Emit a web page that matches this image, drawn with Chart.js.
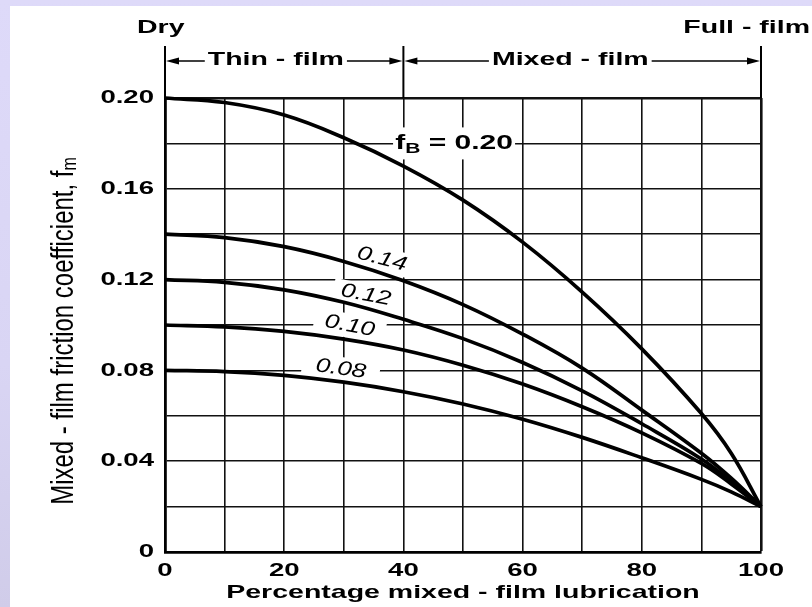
<!DOCTYPE html>
<html>
<head>
<meta charset="utf-8">
<title>Mixed-film friction coefficient</title>
<script src="https://cdn.jsdelivr.net/npm/chart.js@4.4.1/dist/chart.umd.min.js"></script>
<style>
  html, body { margin: 0; padding: 0; }
  body {
    width: 812px; height: 607px; overflow: hidden; position: relative;
    background: linear-gradient(180deg, #dedaf9 0%, #d9d5f4 60%, #d0cce9 100%);
  }
  #panel { position: absolute; left: 10px; top: 6px; width: 802px; height: 601px; background: #fff; }
  canvas { display: block; }
</style>
</head>
<body>
<div id="panel"><canvas id="frictionChart" width="802" height="601"></canvas></div>
<script>
// percentage of mixed-film lubrication
const percentMixed = [0, 10, 20, 30, 40, 50, 60, 70, 80, 90, 95, 100];

// mixed-film friction coefficient f_m, one curve per boundary coefficient f_B
const fm020 = [0.200, 0.198, 0.1925, 0.1825, 0.170, 0.155, 0.1365, 0.1145, 0.0895, 0.061, 0.0435, 0.020];
const fm014 = [0.140, 0.1385, 0.1345, 0.128, 0.1195, 0.109, 0.096, 0.081, 0.0625, 0.0435, 0.0325, 0.020];
const fm012 = [0.120, 0.1188, 0.1155, 0.110, 0.1025, 0.094, 0.0835, 0.071, 0.0565, 0.041, 0.031, 0.020];
const fm010 = [0.100, 0.0992, 0.0972, 0.0938, 0.089, 0.0823, 0.074, 0.064, 0.0525, 0.039, 0.030, 0.020];
const fm008 = [0.080, 0.0795, 0.0778, 0.0748, 0.0706, 0.0652, 0.0585, 0.0505, 0.0415, 0.032, 0.0265, 0.020];

const curves = [fm020, fm014, fm012, fm010, fm008];
const seriesNames = ['0.20', '0.14', '0.12', '0.10', '0.08'];

const xTickLabels = ['0', '20', '40', '60', '80', '100'];
const yTickLabels = ['0', '0.04', '0.08', '0.12', '0.16', '0.20'];
const regimeLabels = ['Thin - film', 'Mixed - film'];
const regimeBounds = [0, 40, 100];

const FAMILY = "'Liberation Sans', Arial, Helvetica, sans-serif";
const STRETCH = 1.5;   // the lettering is drawn wide

// where each curve label sits (data units) and the white patch behind it
const labelSpots = [
  { x: 48.5, y: 0.1800, angle: 0,  w: 122, h: 32 },
  { x: 36.4, y: 0.1290, angle: 15, w: 62,  h: 24 },
  { x: 33.7, y: 0.1132, angle: 11, w: 66,  h: 22 },
  { x: 31.0, y: 0.0996, angle: 11, w: 72,  h: 24 },
  { x: 29.5, y: 0.0806, angle: 8,  w: 78,  h: 24 }
];
const regimeCenters = [18.6, 68];

function wideText(ctx, text, x, y, font, sx, align) {
  ctx.save();
  ctx.font = font;
  ctx.textBaseline = 'middle';
  ctx.textAlign = 'left';
  const w = ctx.measureText(text).width * sx;
  let left = x;
  if (align === 'center') left = x - w / 2;
  else if (align === 'right') left = x - w;
  ctx.translate(left, y);
  ctx.scale(sx, 1);
  ctx.fillText(text, 0, 0);
  ctx.restore();
  return w;
}

function textWidth(ctx, text, font, sx) {
  ctx.save();
  ctx.font = font;
  const w = ctx.measureText(text).width * sx;
  ctx.restore();
  return w;
}

function arrowLine(ctx, x1, x2, y) {
  // arrowhead sits at x2
  const dir = Math.sign(x2 - x1);
  ctx.beginPath();
  ctx.moveTo(x1, y);
  ctx.lineTo(x2 - dir * 6, y);
  ctx.stroke();
  ctx.beginPath();
  ctx.moveTo(x2, y);
  ctx.lineTo(x2 - dir * 13, y - 3.5);
  ctx.lineTo(x2 - dir * 13, y + 3.5);
  ctx.closePath();
  ctx.fill();
}

const annotations = {
  id: 'frictionAnnotations',
  beforeDatasetsDraw(chart) {
    const { ctx, scales: { x, y } } = chart;
    ctx.save();
    ctx.fillStyle = '#fff';
    labelSpots.forEach(s => {
      ctx.save();
      ctx.translate(x.getPixelForValue(s.x), y.getPixelForValue(s.y));
      ctx.rotate(s.angle * Math.PI / 180);
      ctx.fillRect(-s.w / 2, -s.h / 2, s.w, s.h);
      ctx.restore();
    });
    ctx.restore();
  },
  afterDraw(chart) {
    const { ctx, chartArea, scales: { x, y } } = chart;
    const bold = 'bold 19px ' + FAMILY;
    ctx.save();
    ctx.fillStyle = '#000';
    ctx.strokeStyle = '#000';

    // tick labels
    xTickLabels.forEach(t => {
      wideText(ctx, t, x.getPixelForValue(parseFloat(t)), chartArea.bottom + 19, bold, 1.45, 'center');
    });
    yTickLabels.forEach(t => {
      wideText(ctx, t, chartArea.left - 11, y.getPixelForValue(parseFloat(t)), bold, 1.45, 'right');
    });

    // axis titles
    wideText(ctx, 'Percentage mixed - film lubrication', (chartArea.left + chartArea.right) / 2,
      chartArea.bottom + 41, bold, STRETCH, 'center');

    ctx.save();
    ctx.translate(54, chartArea.top + 233);
    ctx.rotate(-Math.PI / 2);
    ctx.scale(1, 1.3);
    ctx.textBaseline = 'middle';
    const mainFont = '24px ' + FAMILY, subFont = '16px ' + FAMILY;
    const mainText = 'Mixed - film friction coefficient, f';
    ctx.font = mainFont;
    const w1 = ctx.measureText(mainText).width;
    ctx.font = subFont;
    const w2 = ctx.measureText('m').width;
    const start = -(w1 + w2) / 2;
    ctx.font = mainFont;
    ctx.fillText(mainText, start, 0);
    ctx.font = subFont;
    ctx.fillText('m', start + w1, 5);
    ctx.restore();

    // regime markers above the plot
    const barTop = chartArea.top - 52, arrowY = chartArea.top - 37;
    ctx.lineWidth = 2;
    regimeBounds.forEach(v => {
      const px = x.getPixelForValue(v);
      ctx.beginPath();
      ctx.moveTo(px, barTop);
      ctx.lineTo(px, chartArea.top);
      ctx.stroke();
    });
    ctx.lineWidth = 1.6;
    regimeLabels.forEach((label, i) => {
      const cx = x.getPixelForValue(regimeCenters[i]);
      const w = textWidth(ctx, label, bold, STRETCH);
      wideText(ctx, label, cx, arrowY - 1, bold, STRETCH, 'center');
      const left = x.getPixelForValue(regimeBounds[i]);
      const right = x.getPixelForValue(regimeBounds[i + 1]);
      arrowLine(ctx, cx - w / 2 - 3, left + 1, arrowY);
      arrowLine(ctx, cx + w / 2 + 3, right - 1, arrowY);
    });
    wideText(ctx, 'Dry', 127, 22, bold, STRETCH, 'left');
    wideText(ctx, 'Full - film', 800, 22, bold, STRETCH, 'right');

    // curve labels
    labelSpots.forEach((s, i) => {
      const px = x.getPixelForValue(s.x), py = y.getPixelForValue(s.y);
      ctx.save();
      ctx.translate(px, py);
      ctx.rotate(s.angle * Math.PI / 180);
      if (i === 0) {
        const big = 'bold 20px ' + FAMILY, small = 'bold 14px ' + FAMILY;
        const rest = ' = ' + seriesNames[0];
        const wf = textWidth(ctx, 'f', big, STRETCH);
        const wb = textWidth(ctx, 'B', small, STRETCH);
        const wr = textWidth(ctx, rest, big, STRETCH);
        let cur = -(wf + wb + wr) / 2;
        wideText(ctx, 'f', cur, 0, big, STRETCH, 'left');
        cur += wf;
        wideText(ctx, 'B', cur, 6, small, STRETCH, 'left');
        cur += wb;
        wideText(ctx, rest, cur, 0, big, STRETCH, 'left');
      } else {
        wideText(ctx, seriesNames[i], 0, 0, 'italic 20px ' + FAMILY, 1.3, 'center');
      }
      ctx.restore();
    });
    ctx.restore();
  }
};

const xMax = regimeBounds[regimeBounds.length - 1];
const yMax = parseFloat(yTickLabels[yTickLabels.length - 1]);

new Chart(document.getElementById('frictionChart'), {
  type: 'line',
  data: {
    datasets: curves.map((vals, i) => ({
      label: 'fB = ' + seriesNames[i],
      data: percentMixed.map((p, j) => ({ x: p, y: vals[j] })),
      borderColor: '#000',
      borderWidth: 3.7,
      pointRadius: 0,
      fill: false,
      clip: false,
      tension: 0.4
    }))
  },
  options: {
    responsive: false,
    animation: false,
    devicePixelRatio: 1,
    layout: { padding: { top: 92, right: 51, left: 0, bottom: 0 } },
    plugins: { legend: { display: false }, tooltip: { enabled: false } },
    scales: {
      x: {
        type: 'linear', min: 0, max: xMax,
        ticks: { stepSize: 10, display: false },
        grid: {
          color: '#111', drawTicks: false,
          lineWidth: c => (c.tick && c.tick.value === xMax ? 2.6 : 1.6)
        },
        border: { display: true, color: '#000', width: 2.8 },
        afterFit: s => { s.height = 55; }
      },
      y: {
        type: 'linear', min: 0, max: yMax,
        ticks: { stepSize: 0.02, display: false },
        grid: {
          color: '#111', drawTicks: false,
          lineWidth: c => (c.tick && Math.abs(c.tick.value - yMax) < 1e-9 ? 2.6 : 1.6)
        },
        border: { display: true, color: '#000', width: 2.8 },
        afterFit: s => { s.width = 155; }
      }
    }
  },
  plugins: [annotations]
});
</script>
</body>
</html>
